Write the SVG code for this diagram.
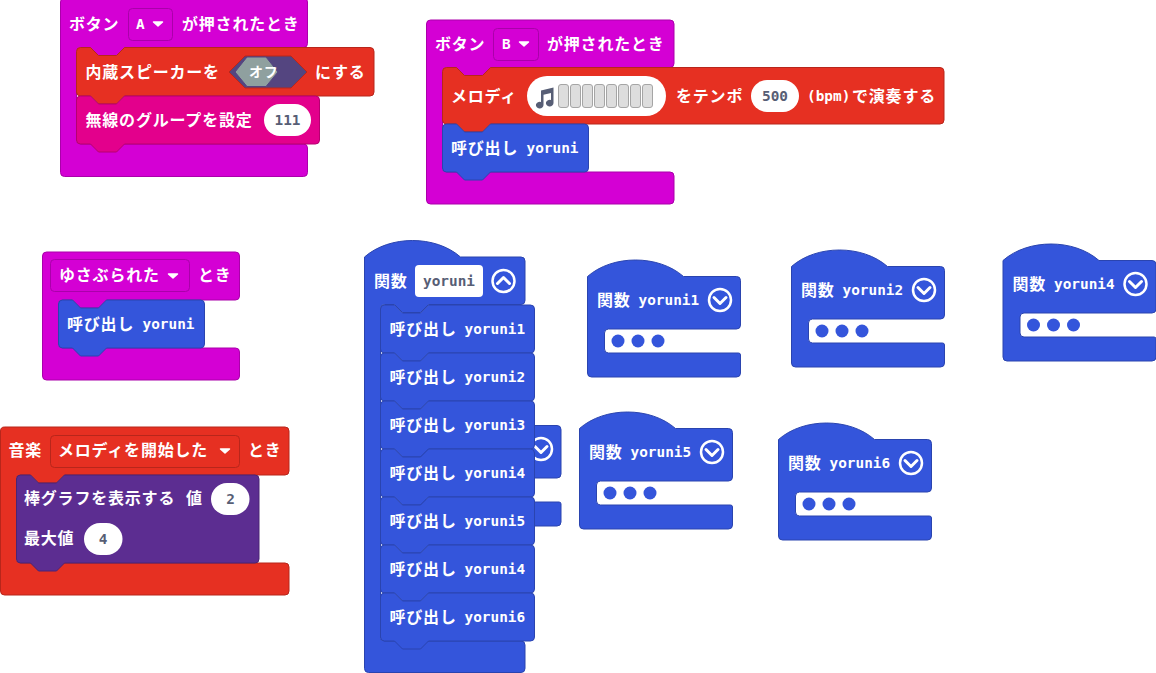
<svg xmlns="http://www.w3.org/2000/svg" width="1156" height="673" viewBox="0 0 1156 673">
<style>
text{font-family:"Noto Sans CJK JP","DejaVu Sans Mono",sans-serif;font-weight:700;font-size:16px;letter-spacing:.8px;fill:#fff}
.m{font-family:"DejaVu Sans Mono","Noto Sans CJK JP",monospace;font-size:14.4px;letter-spacing:0}
.d{fill:#575E75;text-anchor:middle}
.pur{fill:#D400D4;stroke:#AA00AA}
.red{fill:#E63022;stroke:#B8261B}
.pnk{fill:#E3008C;stroke:#B60070}
.blu{fill:#3455DB;stroke:#2A44AF}
.vio{fill:#5C2D91;stroke:#4A2474}
.oval{fill:#fff;stroke:none}
.cell{fill:#DDD;stroke:#A5A5A5}
.ico{fill:none;stroke:#fff;stroke-width:2.5}
.chv{fill:none;stroke:#fff;stroke-width:3;stroke-linecap:round;stroke-linejoin:round}
.arr{fill:#fff;stroke:#fff;stroke-width:1.5;stroke-linejoin:round}
</style>
<defs>
<path id="tab154" d="M0,4a4,4 0 0 1 4,-4h10l8,8h18l8,-8h102a4,4 0 0 1 4,4v40a4,4 0 0 1 -4,4h-102l-8,8h-18l-8,-8h-10a4,4 0 0 1 -4,-4z"/>
<path id="tab146" d="M0,4a4,4 0 0 1 4,-4h10l8,8h18l8,-8h94a4,4 0 0 1 4,4v40a4,4 0 0 1 -4,4h-94l-8,8h-18l-8,-8h-10a4,4 0 0 1 -4,-4z"/>
<path id="fn" d="M0,16.500c25,-22 71,-22 96,0h53a4,4 0 0 1 4,4v44.500a4,4 0 0 1 -4,4h-128a4,4 0 0 0 -4,4v16a4,4 0 0 0 4,4h130a2,2 0 0 1 2,2v18a4,4 0 0 1 -4,4h-145a4,4 0 0 1 -4,-4z"/>
<g id="chev"><circle r="11" class="ico"/><path class="chv" d="M-6,-2.500l6,6l6,-6"/></g>
<path id="dd" class="arr" d="M-4.500,-2h9l-4.500,4z"/>
<g id="dots"><circle cx="30.500" cy="81" r="6.500" fill="#3455DB"/><circle cx="50.500" cy="81" r="6.500" fill="#3455DB"/><circle cx="70.500" cy="81" r="6.500" fill="#3455DB"/></g>
</defs>
<g id="connectors"/>

<g id="hat-a">
<path class="pur" d="M60.500,2a4,4 0 0 1 4,-4H303.500a4,4 0 0 1 4,4V43.500a4,4 0 0 1 -4,4H124.500l-8,8h-18l-8,-8H80.500a4,4 0 0 0 -4,4V140a4,4 0 0 0 4,4H303.500a4,4 0 0 1 4,4V172.500a4,4 0 0 1 -4,4H64.500a4,4 0 0 1 -4,-4z"/>
<text x="69" y="30">ボタン</text>
<rect class="pur" x="128.500" y="8.500" width="44" height="32" rx="4"/>
<text class="m" x="136" y="29">A</text>
<use href="#dd" x="158" y="24"/>
<text x="182" y="30">が押されたとき</text>
</g>
<g id="speaker">
<path class="red" d="M76.500,51.500a4,4 0 0 1 4,-4h10l8,8h18l8,-8H370a4,4 0 0 1 4,4V92a4,4 0 0 1 -4,4H124.500l-8,8h-18l-8,-8h-10a4,4 0 0 1 -4,-4z"/>
<text x="85.500" y="78">内蔵スピーカーを</text>
<path fill="#544580" stroke="#B8261B" d="M229,72L245,56H291L307,72L291,88H245Z"/>
<path fill="#8FA09F" stroke="#544580" d="M235,72L247,57H266L278,72L266,86.500H247Z"/>
<text x="249" y="77" style="font-size:14px">オフ</text>
<text x="315" y="78">にする</text>
</g>
<g id="radio-group">
<path class="pnk" d="M76.500,100a4,4 0 0 1 4,-4h10l8,8h18l8,-8H315.500a4,4 0 0 1 4,4V140a4,4 0 0 1 -4,4H124.500l-8,8h-18l-8,-8h-10a4,4 0 0 1 -4,-4z"/>
<text x="85.500" y="126">無線のグループを設定</text>
<rect class="oval" x="264" y="104" width="47" height="32" rx="16"/>
<text class="m d" x="287.500" y="125">111</text>
</g>

<g id="hat-b">
<path class="pur" d="M426.500,24a4,4 0 0 1 4,-4H670a4,4 0 0 1 4,4V63.500a4,4 0 0 1 -4,4H490.500l-8,8h-18l-8,-8H446.500a4,4 0 0 0 -4,4V168a4,4 0 0 0 4,4H670a4,4 0 0 1 4,4V200a4,4 0 0 1 -4,4H430.500a4,4 0 0 1 -4,-4z"/>
<text x="435" y="50">ボタン</text>
<rect class="pur" x="493.500" y="28.500" width="45" height="32" rx="4"/>
<text class="m" x="502" y="49">B</text>
<use href="#dd" x="524" y="44"/>
<text x="547" y="50">が押されたとき</text>
</g>
<g id="melody">
<path class="red" d="M442.500,71.500a4,4 0 0 1 4,-4h10l8,8h18l8,-8H940a4,4 0 0 1 4,4V120a4,4 0 0 1 -4,4H490.500l-8,8h-18l-8,-8h-10a4,4 0 0 1 -4,-4z"/>
<text x="451" y="102">メロディ</text>
<rect class="oval" x="527" y="76" width="139" height="40" rx="20"/>
<path fill="#575E75" d="M541,90.500L553.500,87.500V103a3.800,3.300 0 1 1 -2.500,-3V93l-7.500,1.800V105a3.800,3.300 0 1 1 -2.500,-3z"/>
<g id="cells">
<rect class="cell" x="558.500" y="84.500" width="10" height="23" rx="2.500"/>
<rect class="cell" x="570.500" y="84.500" width="10" height="23" rx="2.500"/>
<rect class="cell" x="582.500" y="84.500" width="10" height="23" rx="2.500"/>
<rect class="cell" x="594.500" y="84.500" width="10" height="23" rx="2.500"/>
<rect class="cell" x="606.500" y="84.500" width="10" height="23" rx="2.500"/>
<rect class="cell" x="618.500" y="84.500" width="10" height="23" rx="2.500"/>
<rect class="cell" x="630.500" y="84.500" width="10" height="23" rx="2.500"/>
<rect class="cell" x="642.500" y="84.500" width="10" height="23" rx="2.500"/>
</g>
<text x="676" y="102">をテンポ</text>
<rect class="oval" x="751" y="80" width="48" height="32" rx="16"/>
<text class="m d" x="775" y="101">500</text>
<text class="m" x="807" y="101">(bpm)</text>
<text x="852" y="102">で演奏する</text>
</g>
<g id="call-b">
<use href="#tab146" class="blu" transform="translate(442.500,124)"/>
<text x="451" y="154">呼び出し</text>
<text class="m" x="526.500" y="153">yoruni</text>
</g>

<g id="hat-shake">
<path class="pur" d="M42.500,256a4,4 0 0 1 4,-4H235.500a4,4 0 0 1 4,4V296a4,4 0 0 1 -4,4H106.500l-8,8h-18l-8,-8H62.500a4,4 0 0 0 -4,4V344a4,4 0 0 0 4,4H235.500a4,4 0 0 1 4,4V376a4,4 0 0 1 -4,4H46.500a4,4 0 0 1 -4,-4z"/>
<rect class="pur" x="50.500" y="259.500" width="139" height="32" rx="4"/>
<text x="59" y="281">ゆさぶられた</text>
<use href="#dd" x="173" y="276"/>
<text x="198" y="281">とき</text>
</g>
<g id="call-shake">
<use href="#tab146" class="blu" transform="translate(58.500,300)"/>
<text x="67" y="330">呼び出し</text>
<text class="m" x="142.500" y="329">yoruni</text>
</g>

<g id="hat-music">
<path class="red" d="M0.500,431a4,4 0 0 1 4,-4H285a4,4 0 0 1 4,4V471a4,4 0 0 1 -4,4H64.500l-8,8h-18l-8,-8H20.500a4,4 0 0 0 -4,4V559a4,4 0 0 0 4,4H285a4,4 0 0 1 4,4V591a4,4 0 0 1 -4,4H4.500a4,4 0 0 1 -4,-4z"/>
<text x="8.500" y="456">音楽</text>
<rect class="red" x="50.500" y="435.500" width="189" height="32" rx="4"/>
<text x="58" y="456">メロディを開始した</text>
<use href="#dd" x="225" y="451"/>
<text x="248" y="456">とき</text>
</g>
<g id="bar-graph">
<path class="vio" d="M16.500,479a4,4 0 0 1 4,-4h10l8,8h18l8,-8H255a4,4 0 0 1 4,4V559a4,4 0 0 1 -4,4H64.500l-8,8h-18l-8,-8h-10a4,4 0 0 1 -4,-4z"/>
<text x="24" y="504">棒グラフを表示する</text>
<text x="186" y="504">値</text>
<rect class="oval" x="211" y="483" width="38.500" height="32" rx="16"/>
<text class="m d" x="230.500" y="504">2</text>
<text x="24" y="544">最大値</text>
<rect class="oval" x="84" y="523" width="38.500" height="32" rx="16"/>
<text class="m d" x="103" y="544">4</text>
</g>

<g id="fn-yoruni3" transform="translate(408,409)">
<use href="#fn" class="blu"/>
<use href="#chev" x="133" y="40"/>
</g>
<g id="fn-yoruni">
<path class="blu" d="M364.500,257c25,-22 71,-22 96,0H521a4,4 0 0 1 4,4V300.500a4,4 0 0 1 -4,4H428.500l-8,8h-18l-8,-8H384.500a4,4 0 0 0 -4,4V637a4,4 0 0 0 4,4H521a4,4 0 0 1 4,4V668.500a4,4 0 0 1 -4,4H368.500a4,4 0 0 1 -4,-4z"/>
<text x="374" y="287">関数</text>
<rect x="415" y="265" width="68" height="32" rx="4" fill="#fff"/>
<text class="m d" x="449" y="286">yoruni</text>
<g transform="translate(503.500,281) scale(1,-1)"><use href="#chev"/></g>
</g>
<g id="call-1"><use href="#tab154" class="blu" transform="translate(380.500,305)"/><text x="389.500" y="335">呼び出し</text><text class="m" x="464.500" y="334">yoruni1</text></g>
<g id="call-2"><use href="#tab154" class="blu" transform="translate(380.500,353)"/><text x="389.500" y="383">呼び出し</text><text class="m" x="464.500" y="382">yoruni2</text></g>
<g id="call-3"><use href="#tab154" class="blu" transform="translate(380.500,401)"/><text x="389.500" y="431">呼び出し</text><text class="m" x="464.500" y="430">yoruni3</text></g>
<g id="call-4"><use href="#tab154" class="blu" transform="translate(380.500,449)"/><text x="389.500" y="479">呼び出し</text><text class="m" x="464.500" y="478">yoruni4</text></g>
<g id="call-5"><use href="#tab154" class="blu" transform="translate(380.500,497)"/><text x="389.500" y="527">呼び出し</text><text class="m" x="464.500" y="526">yoruni5</text></g>
<g id="call-6"><use href="#tab154" class="blu" transform="translate(380.500,545)"/><text x="389.500" y="575">呼び出し</text><text class="m" x="464.500" y="574">yoruni4</text></g>
<g id="call-7"><use href="#tab154" class="blu" transform="translate(380.500,593)"/><text x="389.500" y="623">呼び出し</text><text class="m" x="464.500" y="622">yoruni6</text></g>

<g id="fn-yoruni1" transform="translate(587.500,260)"><use href="#fn" class="blu"/><text x="9.500" y="46">関数</text><text class="m" x="51" y="45">yoruni1</text><use href="#chev" x="132.500" y="40"/><use href="#dots"/></g>
<g id="fn-yoruni2" transform="translate(791.500,250)"><use href="#fn" class="blu"/><text x="9.500" y="46">関数</text><text class="m" x="51" y="45">yoruni2</text><use href="#chev" x="132.500" y="40"/><use href="#dots"/></g>
<g id="fn-yoruni4" transform="translate(1003,244)"><use href="#fn" class="blu"/><text x="9.500" y="46">関数</text><text class="m" x="51" y="45">yoruni4</text><use href="#chev" x="132.500" y="40"/><use href="#dots"/></g>
<g id="fn-yoruni5" transform="translate(579.500,412)"><use href="#fn" class="blu"/><text x="9.500" y="46">関数</text><text class="m" x="51" y="45">yoruni5</text><use href="#chev" x="132.500" y="40"/><use href="#dots"/></g>
<g id="fn-yoruni6" transform="translate(778.500,423)"><use href="#fn" class="blu"/><text x="9.500" y="46">関数</text><text class="m" x="51" y="45">yoruni6</text><use href="#chev" x="132.500" y="40"/><use href="#dots"/></g>
</svg>
